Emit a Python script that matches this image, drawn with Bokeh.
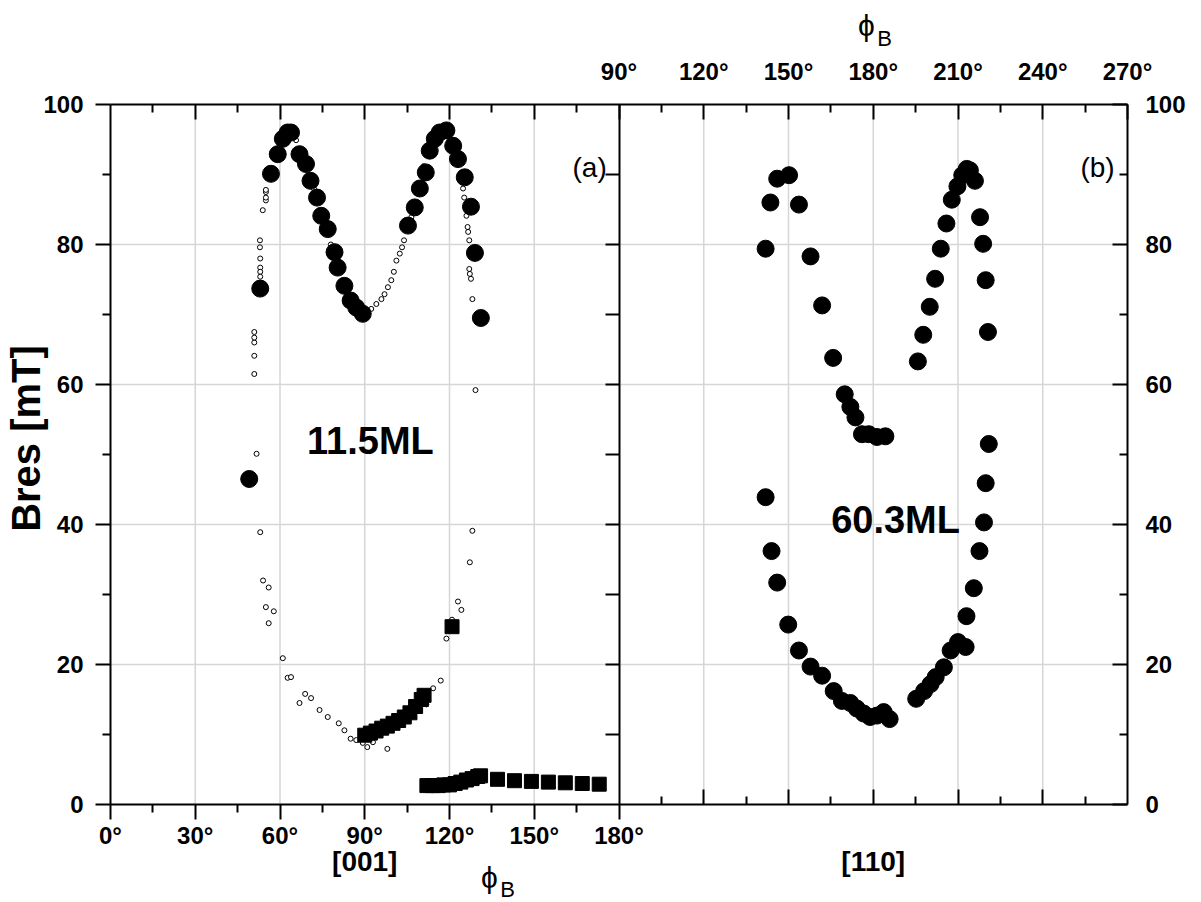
import math
from bokeh.plotting import figure
from bokeh.models import Range1d, LinearAxis, FixedTicker, Label
from bokeh.embed import file_html
from bokeh.resources import INLINE

# ---------------- data ----------------
# panel (a): 11.5 ML, [001] in-plane rotation
a_big_x = [49.1, 53.0, 56.8, 59.2, 61.0, 62.7, 63.9, 66.9, 69.2, 70.8, 73.1, 74.6, 76.9,
           79.3, 80.4, 82.8, 85.0, 87.0, 89.3, 105.3, 107.7, 109.5, 111.6, 113.0, 114.8,
           116.5, 118.9, 121.3, 123.0, 125.4, 127.6, 129.0, 131.1]
a_big_y = [46.5, 73.7, 90.1, 92.9, 95.1, 96.0, 96.0, 92.9, 91.5, 89.1, 86.7, 84.1, 82.2,
           78.9, 76.7, 74.1, 72.0, 71.0, 70.1, 82.7, 85.3, 88.0, 90.3, 93.4, 95.1,
           96.0, 96.3, 94.1, 92.2, 89.6, 85.4, 78.8, 69.5]

a_small_x = [50.9, 50.9, 50.9, 50.9, 50.9, 51.7, 52.9, 52.9, 53.0, 53.0, 53.0, 53.0, 53.9,
             55.0, 55.0, 55.0, 55.0, 57.5, 59.5, 65.7, 72.0, 78.0, 84.0, 88.0,
             92.3, 94.1, 95.9, 97.0, 98.2, 99.4, 100.3, 101.2, 102.4, 103.2, 103.9, 106.5, 110.9,
             124.8, 125.2, 126.0, 126.4, 126.6, 127.0, 127.0, 127.2, 127.6, 128.1, 129.2,
             53.0, 54.0, 56.0, 55.0, 57.8, 56.0, 61.0, 62.7, 63.9, 68.9, 66.9, 71.0, 74.0,
             76.9, 80.8, 82.8, 85.0, 87.0, 89.3, 90.9, 92.9, 98.0,
             111.8, 114.2, 116.9, 118.9, 120.9, 123.0, 124.2, 127.2, 128.1]
a_small_y = [61.5, 64.1, 66.0, 66.7, 67.5, 50.1, 79.6, 80.6, 78.0, 76.7, 76.1, 75.4, 84.9,
             86.3, 86.7, 87.5, 87.8, 90.5, 93.5, 94.9, 88.0, 80.0, 73.0, 70.5,
             70.8, 71.5, 72.2, 72.9, 73.9, 74.9, 76.1, 77.7, 78.7, 79.6, 80.6, 83.9, 91.2,
             88.0, 86.7, 84.1, 82.5, 81.8, 80.6, 76.5, 75.8, 75.1, 72.2, 59.2,
             38.9, 32.0, 31.0, 28.2, 27.6, 25.9, 20.9, 18.1, 18.2, 15.8, 14.5, 15.2, 13.5,
             12.5, 11.6, 10.6, 9.4, 9.2, 8.8, 8.2, 8.9, 7.95,
             14.3, 16.6, 17.7, 23.7, 26.4, 29.0, 27.8, 34.6, 39.1]

a_sq_x = [90, 92, 94, 96, 98, 100, 102, 104, 106, 108, 110, 111, 120.9,
          112, 114, 116, 118, 120, 122, 124, 126, 128, 130, 131, 137, 143, 149, 155, 161, 167, 173]
a_sq_y = [9.9, 10.2, 10.5, 10.9, 11.2, 11.6, 12.0, 12.5, 13.1, 14.0, 15.0, 15.6, 25.4,
          2.7, 2.7, 2.7, 2.8, 2.8, 3.0, 3.2, 3.5, 3.7, 4.0, 4.1, 3.6, 3.4, 3.3, 3.2, 3.1, 3.0, 2.9]

# panel (b): 60.3 ML, [110]
b_x = [141.9, 143.6, 146.0, 150.2, 153.7, 157.8, 161.9, 165.8, 169.9, 171.9, 173.7, 176.0,
       178.4, 181.3, 184.3,
       141.9, 144.0, 146.0, 149.9, 153.7, 157.8, 161.9, 166.0, 168.9, 171.9, 174.2, 176.6,
       178.9, 181.3, 183.7, 185.8,
       195.2, 198.0, 200.3, 202.1, 205.0, 207.4, 210.0, 212.7, 213.0, 215.6, 217.6, 219.2,
       219.8, 220.9,
       195.8, 197.7, 200.0, 201.9, 203.9, 205.9, 207.8, 209.8, 211.5, 213.1, 214.2, 216.0,
       217.8, 218.9, 219.8, 220.6]
b_y = [79.4, 86.0, 89.4, 89.9, 85.7, 78.3, 71.3, 63.8, 58.6, 56.8, 55.3, 52.9,
       52.9, 52.5, 52.6,
       43.9, 36.2, 31.7, 25.7, 22.0, 19.7, 18.4, 16.2, 14.8, 14.5, 13.7, 13.0,
       12.5, 12.7, 13.2, 12.2,
       15.1, 16.2, 17.2, 18.2, 19.6, 22.0, 23.2, 22.5, 26.9, 30.9, 36.2, 40.3,
       45.9, 51.5,
       63.3, 67.1, 71.1, 75.1, 79.4, 83.0, 86.4, 88.3, 89.9, 90.8, 90.6, 89.1,
       83.9, 80.1, 74.9, 67.5]

# tick values
a_ticks = [0, 30, 60, 90, 120, 150, 180]
a_minor = [15, 45, 75, 105, 135, 165]
top_ticks = [-60, -30, 0, 30, 60, 90, 120, 150, 180, 210, 240, 270]
top_minor = [-75, -45, -15, 15, 45, 75, 105, 135, 165, 195, 225, 255]
top_labelled = [90, 120, 150, 180, 210, 240, 270]
y_ticks = [0, 20, 40, 60, 80, 100]
y_minor = [10, 30, 50, 70, 90]
b_ticks = [120, 150, 180, 210, 240]
b_minor = [105, 135, 165, 195, 225, 255]
divider_ticks = [10, 20, 30, 40, 50, 60, 70, 80, 90]
grid_a = [30, 60, 90, 120, 150]
grid_b = [120, 150, 180, 210, 240]
grid_y = [20, 40, 60, 80]

FONT = "Liberation Sans"
TICK_FS = "24px"

# ---------------- layout (pixels) ----------------
W, H = 1201, 902
L, R, T, B = 110, 1127, 104, 804          # plot box edges
kx = (R - L) / 360.0                       # px per degree (both panels)
ky = (B - T) / 100.0                       # px per mT

p = figure(width=W, height=H, min_border=0,
           x_range=Range1d(0 - L / kx, 360 + (W - R) / kx),
           y_range=Range1d(0 - (H - B) / ky, 100 + T / ky),
           x_axis_location=None, y_axis_location=None,
           output_backend="svg", toolbar_location=None)
p.extra_x_ranges = {"right": Range1d(-90 - L / kx, 270 + (W - R) / kx)}
p.background_fill_color = "white"
p.border_fill_color = "white"
p.outline_line_color = None
p.grid.visible = False


def axis(side, loc, ticks, minor=(), bounds=None, rng=None, t_in=0, t_out=0, m_in=0, m_out=0,
         labels=None, standoff=5):
    kw = {}
    if rng is not None:
        kw["x_range_name"] = rng
    ax = LinearAxis(fixed_location=loc, ticker=FixedTicker(ticks=list(ticks), minor_ticks=list(minor)),
                    **kw)
    if bounds is not None:
        ax.bounds = bounds
    ax.axis_line_width = 2
    ax.axis_line_color = "black"
    ax.major_tick_line_width = 2
    ax.minor_tick_line_width = 2
    ax.major_tick_line_color = "black"
    ax.minor_tick_line_color = "black"
    ax.major_tick_in = t_in
    ax.major_tick_out = t_out
    ax.minor_tick_in = m_in
    ax.minor_tick_out = m_out
    ax.major_label_text_font = FONT
    ax.major_label_text_font_style = "bold"
    ax.major_label_text_font_size = TICK_FS
    ax.major_label_text_color = "black"
    ax.major_label_standoff = standoff
    if labels is not None:
        ax.major_label_overrides = labels
    p.add_layout(ax, side)
    return ax


# grid lines (drawn first, under everything)
p.segment(x0=grid_a, y0=0, x1=grid_a, y1=100, line_color="#d6d6d6", line_width=1.5)
p.segment(x0=grid_b, y0=0, x1=grid_b, y1=100, line_color="#d6d6d6", line_width=1.5,
          x_range_name="right")
p.segment(x0=0, y0=grid_y, x1=360, y1=grid_y, line_color="#d6d6d6", line_width=1.5)

# ---------------- data glyphs ----------------
p.scatter(a_small_x, a_small_y, marker="circle", size=5, fill_color="white",
          line_color="black", line_width=1)
p.scatter(a_big_x, a_big_y, marker="circle", size=17, fill_color="black", line_color="black")
p.scatter(a_sq_x, a_sq_y, marker="square", size=14, fill_color="black", line_color="black")
p.scatter(b_x, b_y, marker="circle", size=17, fill_color="black", line_color="black",
          x_range_name="right")

# ---------------- axes ----------------
# left (panel a): outward ticks, labels
axis("left", 0, y_ticks, y_minor, bounds=(0, 100), t_out=15, m_out=8, standoff=12)
# bottom (panel a): outward ticks, degree labels
axis("below", 0, a_ticks, a_minor, bounds=(0, 180), t_out=15, m_out=8, standoff=2,
     labels={t: f"{t}°" for t in a_ticks})
# right (panel b): inward ticks, labels outside
axis("right", 360, y_ticks, y_minor, bounds=(0, 100), t_in=15, m_in=8, standoff=18)
# top: panel b scale across the whole box, inward ticks
axis("above", 100, top_ticks, top_minor, bounds=(-90, 270), rng="right", t_in=15, m_in=8,
     standoff=20, labels={t: (f"{t}°" if t in top_labelled else "") for t in top_ticks})
# divider between the panels: inward ticks facing panel (a)
axis("right", 180, divider_ticks, bounds=(0, 100), t_in=14,
     labels={t: "" for t in divider_ticks})
# bottom of panel (b): inward ticks, no labels
axis("below", 0, b_ticks, b_minor, bounds=(90, 270), rng="right", t_in=15, m_in=8,
     labels={t: "" for t in b_ticks})


# ---------------- texts ----------------
def lab(x, y, text, size, bold=False, rng=None, angle=0.0):
    kw = dict(x=x, y=y, text=text, text_font=FONT, text_font_size=size,
              text_font_style="bold" if bold else "normal", text_color="black",
              text_align="center", text_baseline="middle", angle=angle)
    if rng is not None:
        kw["x_range_name"] = rng
    p.add_layout(Label(**kw))


def ypx(py):
    return (B - py) / ky


def xpx(px):
    return (px - L) / kx


lab(xpx(25), ypx(438), "Bres [mT]", "40px", bold=True, angle=math.pi / 2)
lab(169.6, 91.0, "(a)", "28px")
lab(259.4, 91.0, "(b)", "28px", rng="right")
lab(92.0, 51.9, "11.5ML", "38px", bold=True)
lab(187.9, 40.6, "60.3ML", "38px", bold=True, rng="right")
lab(90, ypx(861), "[001]", "28px", bold=True)
lab(180, ypx(861), "[110]", "28px", bold=True, rng="right")
lab(xpx(489), ypx(877), "ϕ", "30px")
lab(xpx(507), ypx(889), "B", "22px")
lab(177.6, ypx(25), "ϕ", "30px", rng="right")
lab(184.0, ypx(38), "B", "22px", rng="right")

open("out.html", "w").write(file_html(p, INLINE))
